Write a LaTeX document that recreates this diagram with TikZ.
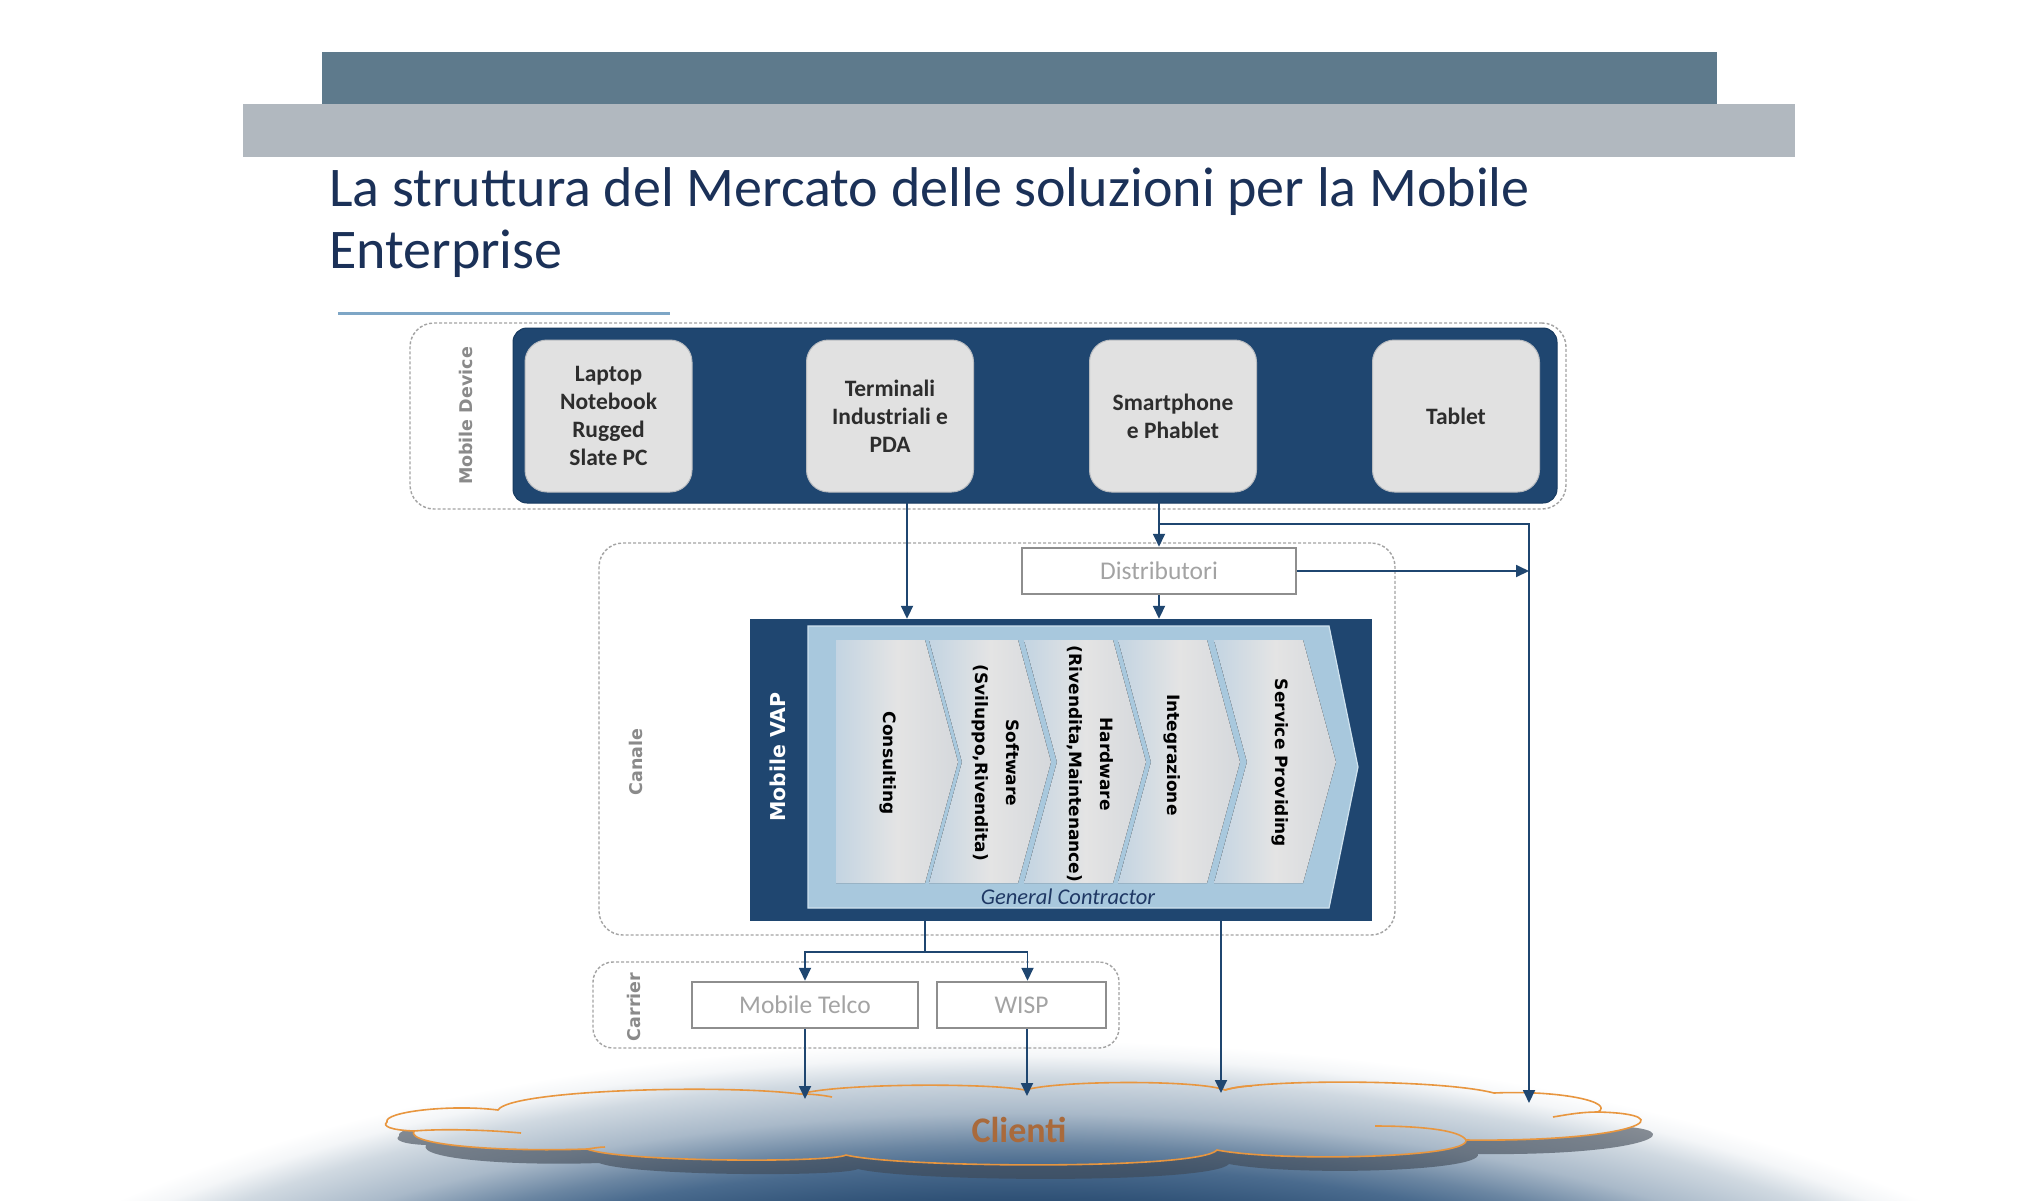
\documentclass[tikz,border=0pt]{standalone}
\usepackage{fontspec}
\setmainfont{Carlito}
\newfontfamily\verdfont{DejaVu Sans}
\usepackage{tikz}
\usetikzlibrary{arrows.meta,shapes,positioning,calc}
\definecolor{barblue}{HTML}{5E7A8C}
\definecolor{bargray}{HTML}{B1B8BF}
\definecolor{titleblue}{HTML}{1B3158}
\definecolor{ruleblue}{HTML}{7EA6C6}
\definecolor{vapblue}{HTML}{1F4670}
\definecolor{vapdark}{HTML}{173A60}
\definecolor{devgray}{HTML}{E1E1E1}
\definecolor{devedge}{HTML}{B9BCC0}
\definecolor{devtext}{HTML}{2D2D2D}
\definecolor{grpgray}{HTML}{A3A3A3}
\definecolor{lblgray}{HTML}{8A8A8A}
\definecolor{boxgray}{HTML}{8E8E8E}
\definecolor{boxtext}{HTML}{A3A3A3}
\definecolor{gcblue}{HTML}{A8C8DD}
\definecolor{gcedge}{HTML}{CFE2EE}
\definecolor{gctext}{HTML}{1F3864}
\definecolor{chevleft}{HTML}{C3D4E2}
\definecolor{chevmid}{HTML}{E4E4E4}
\definecolor{chevright}{HTML}{D5D8DC}
\definecolor{cloudorange}{HTML}{E8963F}
\definecolor{clientibrown}{HTML}{A96A3C}
\definecolor{shadowgray}{HTML}{3E4753}
\definecolor{glowA}{HTML}{284868}
\definecolor{glowB}{HTML}{2E5075}
\definecolor{glowC}{HTML}{4A6B8E}
\definecolor{glowD}{HTML}{6B86A2}
\definecolor{glowE}{HTML}{A9B9C9}
\definecolor{glowF}{HTML}{D0D9E1}
\definecolor{glowG}{HTML}{F4F6F8}
\pgfdeclareradialshading{glow}{\pgfpoint{0bp}{0bp}}{color(0bp)=(glowA); color(17.3bp)=(glowB); color(19bp)=(glowC); color(20bp)=(glowD); color(21.5bp)=(glowE); color(23.25bp)=(glowF); color(24.25bp)=(glowG); color(25bp)=(white); color(50bp)=(white)}
\tikzstyle{group} = [rectangle, draw=grpgray, dash pattern=on 3pt off 2pt, line width=1.4pt, rounded corners=24pt, inner sep=0pt]
\tikzstyle{grouplabel} = [rotate=90, text=lblgray, font=\verdfont\bfseries\fontsize{17.5}{20}\selectfont]
\tikzstyle{panel} = [rectangle, rounded corners=14pt, fill=vapblue, draw=vapdark, line width=1pt, minimum width=1044pt, minimum height=175pt, inner sep=0pt]
\tikzstyle{devbox} = [rectangle, rounded corners=22pt, fill=devgray, draw=devedge, line width=1pt, minimum width=167pt, minimum height=152pt, inner sep=0pt, align=center, text=devtext, font=\bfseries\fontsize{23.5}{28}\selectfont]
\tikzstyle{plainbox} = [rectangle, fill=white, draw=boxgray, line width=2.5pt, minimum height=46pt, inner sep=0pt, text=boxtext, font=\fontsize{25.5}{30}\selectfont]
\tikzstyle{vapbox} = [rectangle, fill=vapblue, minimum width=622pt, minimum height=302pt, inner sep=0pt]
\tikzstyle{vaplabel} = [rotate=90, text=white, font=\verdfont\bfseries\fontsize{20.5}{24}\selectfont]
\tikzstyle{chev} = [left color=chevleft, right color=chevright, middle color=chevmid]
\tikzstyle{chevtext} = [rotate=-90, align=center, text=black, font=\verdfont\bfseries\fontsize{17}{31}\selectfont]
\tikzstyle{link} = [draw=vapblue, line width=1.8pt, -{Triangle[length=13pt,width=12pt]}]
\tikzstyle{cloudline} = [draw=cloudorange, line width=1.6pt]
\tikzstyle{cloudshape} = [insert path={(387,1122) .. controls (383,1112) and (450,1104) .. (498,1110)
  .. controls (510,1090) and (720,1084) .. (800,1094)
  .. controls (840,1083) and (990,1083) .. (1025,1090)
  .. controls (1060,1080) and (1200,1080) .. (1225,1090)
  .. controls (1260,1079) and (1440,1079) .. (1494,1093)
  .. controls (1560,1090) and (1615,1102) .. (1598,1112)
  .. controls (1685,1114) and (1640,1142) .. (1466,1140)
  .. controls (1470,1158) and (1280,1162) .. (1217,1150)
  .. controls (1200,1170) and (900,1168) .. (846,1155)
  .. controls (830,1163) and (620,1162) .. (587,1149)
  .. controls (500,1152) and (405,1145) .. (414,1131)
  .. controls (390,1130) and (382,1126) .. (387,1122) -- cycle}]

\begin{document}
\begin{tikzpicture}[x=1pt,y=-1pt]
\useasboundingbox (0,0) rectangle (2040,1200);
\clip (0,0) rectangle (2040,1200);
\fill[white] (0,0) rectangle (2040,1200);
\shade[shading=glow] (1020,1560) ellipse [x radius=1250pt, y radius=520pt];
\fill[shadowgray, opacity=0.6, shift={(12,14)}, cloudshape];
\begin{scope}
\clip[cloudshape];
\shade[shading=glow] (1020,1560) ellipse [x radius=1250pt, y radius=520pt];
\end{scope}
\draw[cloudline, cloudshape];
\draw[cloudline] (414,1131) .. controls (450,1128) and (500,1131) .. (521,1133);
\draw[cloudline] (1598,1112) .. controls (1580,1112) and (1565,1115) .. (1553,1117);
\draw[cloudline] (1466,1140) .. controls (1460,1130) and (1420,1126) .. (1375,1126);
\draw[cloudline] (800,1094) .. controls (812,1094) and (822,1095) .. (832,1097);
\draw[cloudline] (1225,1090) .. controls (1235,1087) and (1245,1086) .. (1252,1086);
\draw[cloudline] (587,1149) .. controls (595,1148) and (600,1147) .. (605,1147);
\node[text=clientibrown, font=\bfseries\fontsize{36}{40}\selectfont] (clienti) at (1019,1130) {Clienti};
\coordinate (land1) at (805,1099);
\coordinate (land2) at (1027,1096);
\coordinate (land3) at (1221,1093);
\coordinate (land4) at (1529,1103);

\fill[barblue] (322,52) rectangle (1717,104);
\fill[bargray] (243,104) rectangle (1795,157);
\node[anchor=base west, align=left, inner sep=0pt, text=titleblue, font=\fontsize{56}{62}\selectfont] (title) at (329,268) {La struttura del Mercato delle soluzioni per la Mobile\\Enterprise};
\draw[ruleblue, line width=3pt] (338,313) -- (670,313);

\node[group, minimum width=1156pt, minimum height=186pt] (devgroup) at (988,416) {};
\node[group, minimum width=796pt, minimum height=392pt] (canale) at (997,739) {};
\node[group, minimum width=526pt, minimum height=86pt, rounded corners=20pt] (carrier) at (856,1005) {};
\node[grouplabel] (devlabel) at (466,416) {Mobile Device};
\node[grouplabel] (canlabel) at (636,762) {Canale};
\node[grouplabel] (carlabel) at (634,1007) {Carrier};

\node[panel] (devpanel) at (1035,415.5) {};
\node[devbox] (laptop) at (608.5,416) {Laptop\\Notebook\\Rugged\\Slate PC};
\node[devbox] (term) at (890,416) {Terminali\\Industriali e\\PDA};
\node[devbox] (smart) at (1173,416) {Smartphone\\e Phablet};
\node[devbox] (tablet) at (1456,416) {Tablet};

\node[plainbox, minimum width=274pt] (distr) at (1159,571) {Distributori};
\node[plainbox, minimum width=226pt] (telco) at (805,1005) {Mobile Telco};
\node[plainbox, minimum width=169pt] (wisp) at (1021.5,1005) {WISP};

\node[vapbox] (vap) at (1061,770) {};
\node[vaplabel] (vaplabel) at (778,757) {Mobile VAP};
\filldraw[fill=gcblue, draw=gcedge, line width=1.2pt] (808,626) -- (1329,626) -- (1358,767) -- (1329,908) -- (808,908) -- cycle;
\foreach \lx/\nd/\cx/\cy/\txt [count=\i] in {836/0/888/763/{Consulting}, 929/33/996/763/{Software\\(Sviluppo,Rivendita)}, 1024/33/1090/764/{Hardware\\(Rivendita,Maintenance)}, 1118/33/1172/755/{Integrazione}, 1214/33/1280/763/{Service Providing}}
{
\fill[chev] (\lx,640) -- ++(89,0) -- ++(33,122) -- ++(-33,121) -- ++(-89,0) -- ++(\nd,-121) -- cycle;
\node[chevtext] (chev\i) at (\cx,\cy) {\txt};
}
\node[text=gctext, font=\itshape\fontsize{22.5}{26}\selectfont] (gc) at (1068,897) {General Contractor};

\coordinate (tap) at (1159,524);
\coordinate (split) at (925,952);
\draw[link] ([xshift=17pt]term.south) -- ([xshift=17pt]term.south |- vap.north);
\draw[link] (distr.north |- smart.south) -- (distr.north);
\draw[link] (tap) -| (land4);
\draw[link] (distr.east) -- (distr.east -| land4);
\draw[link] (distr.south) -- (distr.south |- vap.north);
\draw[link] (vap.south -| split) -- (split) -| (telco.north);
\draw[link] (split) -| ([xshift=6pt]wisp.north);
\draw[link] (vap.south -| land3) -- (land3);
\draw[link] (telco.south) -- (land1);
\draw[link] (wisp.south -| land2) -- (land2);
\end{tikzpicture}
\end{document}
